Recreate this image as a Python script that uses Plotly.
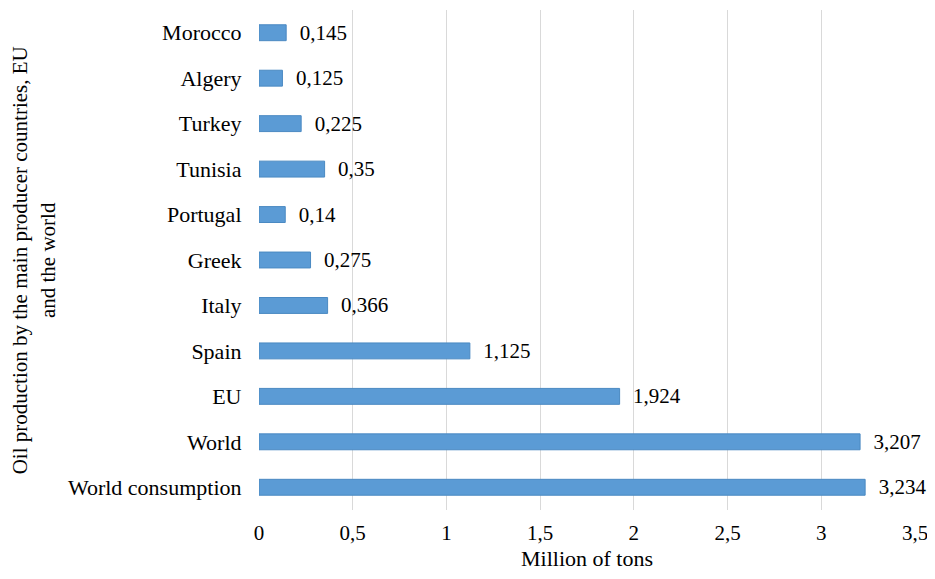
import plotly.graph_objects as go

countries = ["World consumption", "World", "EU", "Spain", "Italy", "Greek",
             "Portugal", "Tunisia", "Turkey", "Algery", "Morocco"]
production = [3.234, 3.207, 1.924, 1.125, 0.366, 0.275, 0.14, 0.35, 0.225, 0.125, 0.145]
labels = ["3,234", "3,207", "1,924", "1,125", "0,366", "0,275", "0,14", "0,35", "0,225", "0,125", "0,145"]
tick_vals = [0, 0.5, 1, 1.5, 2, 2.5, 3, 3.5]
tick_text = ["0", "0,5", "1", "1,5", "2", "2,5", "3", "3,5"]

font = "Liberation Serif, Times New Roman, serif"

fig = go.Figure(go.Bar(
    x=production,
    y=countries,
    orientation="h",
    width=0.35,
    marker=dict(color="#5b9bd5", line=dict(color="#4a89c2", width=1)),
    text=labels,
    texttemplate="  %{text}",
    textposition="outside",
    constraintext="none",
    textfont=dict(family=font, size=21, color="#000000"),
    cliponaxis=False,
))

# the page puts the figure 8px in from the top-left corner
fig.update_layout(
    width=927, height=563,
    margin=dict(l=251, r=20, t=2, b=61),
    plot_bgcolor="white", paper_bgcolor="white",
    font=dict(family=font, size=22, color="#000000"),
    showlegend=False,
    xaxis=dict(
        range=[0, 3.5], tickvals=tick_vals, ticktext=tick_text,
        tickfont=dict(size=21), ticklabelstandoff=8,
        showgrid=True, gridcolor="#d9d9d9", gridwidth=1,
        zeroline=False, showline=False, ticks="", automargin=False,
        title=dict(text="Million of tons", font=dict(size=22), standoff=18),
    ),
    yaxis=dict(
        showgrid=False, zeroline=False, showline=False, ticks="",
        ticksuffix="   ", automargin=False,
    ),
    annotations=[dict(
        text="Oil production by the main producer countries, EU<br>and the world",
        xref="paper", yref="paper", x=-0.344, y=0.5,
        textangle=-90, showarrow=False, xanchor="center", yanchor="middle",
        font=dict(family=font, size=21, color="#000000"),
    )],
)

fig.write_html("out.html")
